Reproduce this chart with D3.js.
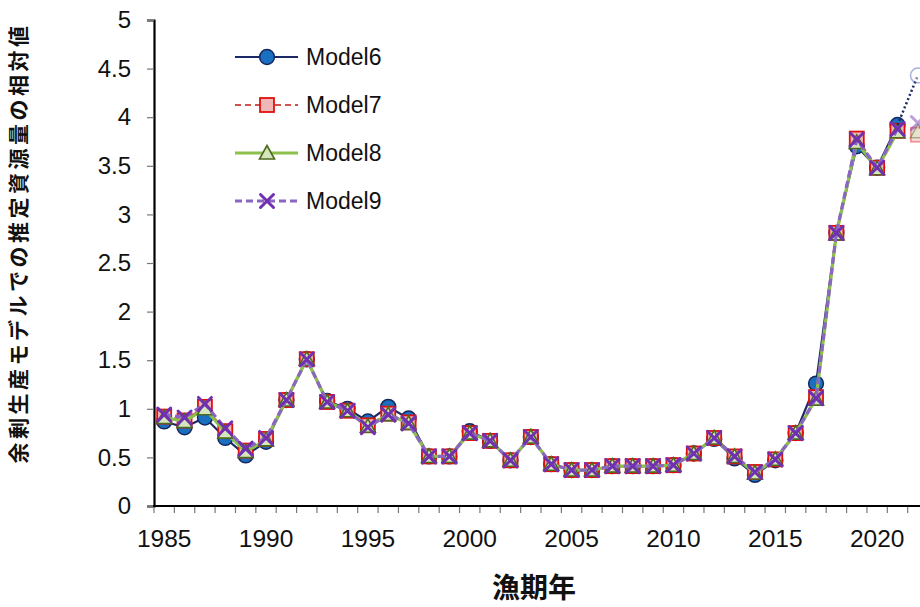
<!DOCTYPE html>
<html lang="ja">
<head>
  <meta charset="UTF-8" />
  <title>余剰生産モデルでの推定資源量の相対値</title>
  <style>
    body {
      margin: 0;
      background: #fff;
      font-family: "Liberation Sans", Arial, sans-serif;
    }
    svg { display: block; }
    .tick text { font-family: "Liberation Sans", Arial, sans-serif; }
    .jp { font-family: "Noto Sans CJK JP", sans-serif; }
  </style>
</head>
<body>
  <svg width="920" height="607"></svg>

  <script src="https://cdnjs.cloudflare.com/ajax/libs/d3/7.8.5/d3.min.js"></script>
  <script>
    // fishing years 1985-2021
    const years = d3.range(1985, 2022);
    const yearTicks = [1985, 1990, 1995, 2000, 2005, 2010, 2015, 2020];
    const yTicks = [0, 0.5, 1, 1.5, 2, 2.5, 3, 3.5, 4, 4.5, 5];

    const model6 = [0.87, 0.81, 0.91, 0.70, 0.52, 0.66, 1.09, 1.51, 1.08, 1.00, 0.87, 1.02, 0.90, 0.51, 0.51,
      0.77, 0.67, 0.47, 0.71, 0.43, 0.37, 0.37, 0.41, 0.41, 0.41, 0.42, 0.54, 0.69, 0.49, 0.32,
      0.47, 0.75, 1.26, 2.81, 3.70, 3.48, 3.92];
    const model7 = [0.92, 0.88, 1.02, 0.77, 0.57, 0.69, 1.09, 1.51, 1.07, 0.98, 0.83, 0.95, 0.86, 0.51, 0.51,
      0.75, 0.67, 0.47, 0.71, 0.43, 0.37, 0.37, 0.41, 0.41, 0.41, 0.42, 0.54, 0.70, 0.51, 0.35,
      0.48, 0.75, 1.12, 2.81, 3.78, 3.48, 3.86];
    const model8 = [0.91, 0.87, 1.00, 0.76, 0.56, 0.68, 1.09, 1.51, 1.07, 0.98, 0.82, 0.94, 0.85, 0.51, 0.51,
      0.75, 0.67, 0.47, 0.71, 0.43, 0.37, 0.37, 0.41, 0.41, 0.41, 0.42, 0.54, 0.70, 0.51, 0.34,
      0.48, 0.75, 1.10, 2.80, 3.74, 3.47, 3.85];
    const model9 = [0.94, 0.91, 1.05, 0.80, 0.59, 0.70, 1.09, 1.51, 1.07, 0.98, 0.81, 0.94, 0.85, 0.51, 0.51,
      0.75, 0.67, 0.47, 0.71, 0.43, 0.37, 0.37, 0.41, 0.41, 0.41, 0.42, 0.54, 0.70, 0.51, 0.35,
      0.48, 0.75, 1.11, 2.81, 3.77, 3.48, 3.88];

    // provisional 2022 values (drawn faded)
    const provYear = 2022;
    const provValues = [4.43, 3.82, 3.85, 3.94];

    const seriesNames = ["Model6", "Model7", "Model8", "Model9"];

    const styles = [
      { line: "#1b2a66", dash: null, width: 2.2, shape: "circle", fill: "#1a6fc0", stroke: "#16275e" },
      { line: "#d0504a", dash: "6,4", width: 2.2, shape: "square", fill: "#efb7b5", stroke: "#e01010" },
      { line: "#8cc04b", dash: null, width: 3.2, shape: "triangle", fill: "#d6e6bc", stroke: "#4d6a1e" },
      { line: "#8a66c2", dash: "7,4", width: 3.2, shape: "cross", fill: "none", stroke: "#7030b0" }
    ];

    const series = [model6, model7, model8, model9].map((vals, i) => ({
      name: seriesNames[i],
      style: styles[i],
      points: years.map((yr, j) => ({ year: yr, value: vals[j] })),
      prov: { year: provYear, value: provValues[i] }
    }));

    const svg = d3.select("svg");

    // category axis: points sit in the middle of each year slot
    const x = d3.scaleBand()
      .domain(d3.range(1985, 2025))
      .range([154, 154 + 40 * 20.37])
      .padding(0);
    const xc = yr => x(yr) + x.bandwidth() / 2;

    const y = d3.scaleLinear().domain([0, 5]).range([506, 20]);

    // y axis
    const yAxis = svg.append("g")
      .attr("transform", "translate(154,0)")
      .call(d3.axisLeft(y).tickValues(yTicks).tickSize(7).tickPadding(16).tickFormat(d => String(d)));
    yAxis.select(".domain").attr("stroke", "#000").attr("stroke-width", 2.2);
    yAxis.selectAll(".tick line").attr("stroke", "#777").attr("stroke-width", 1.2);
    yAxis.selectAll(".tick text").attr("font-size", 24).attr("fill", "#111");

    // x axis
    const xAxisG = svg.append("g").attr("transform", "translate(0,506)");
    xAxisG.selectAll("line.tk")
      .data(x.domain())
      .join("line")
      .attr("class", "tk")
      .attr("x1", d => x(d)).attr("x2", d => x(d))
      .attr("y1", 0).attr("y2", 7)
      .attr("stroke", "#777").attr("stroke-width", 1.2);
    xAxisG.append("line")
      .attr("x1", x.range()[0] - 1).attr("x2", x.range()[1])
      .attr("y1", 0).attr("y2", 0)
      .attr("stroke", "#000").attr("stroke-width", 2.2);
    xAxisG.selectAll("text.lbl")
      .data(yearTicks)
      .join("text")
      .attr("class", "lbl")
      .attr("x", d => xc(d))
      .attr("y", 41)
      .attr("text-anchor", "middle")
      .attr("font-size", 24.5)
      .attr("fill", "#111")
      .text(d => d);

    // axis titles
    svg.append("text")
      .attr("class", "jp")
      .attr("x", 534).attr("y", 598)
      .attr("text-anchor", "middle")
      .attr("font-size", 28).attr("font-weight", "bold")
      .attr("fill", "#111")
      .text("漁期年");

    svg.append("text")
      .attr("class", "jp")
      .attr("transform", "translate(26,243) rotate(-90)")
      .attr("text-anchor", "middle")
      .attr("font-size", 21).attr("font-weight", "bold")
      .attr("letter-spacing", 3.5)
      .attr("fill", "#111")
      .text("余剰生産モデルでの推定資源量の相対値");

    // marker drawing helper
    function drawMarker(g, shape, cx, cy, st, opacity) {
      const m = g.append("g").attr("transform", `translate(${cx},${cy})`).attr("opacity", opacity);
      if (shape === "circle") {
        m.append("circle").attr("r", 7.4)
          .attr("fill", st.fill).attr("stroke", st.stroke).attr("stroke-width", 1.5);
      } else if (shape === "square") {
        m.append("rect").attr("x", -7).attr("y", -7).attr("width", 14).attr("height", 14)
          .attr("fill", st.fill).attr("stroke", st.stroke).attr("stroke-width", 1.8);
      } else if (shape === "triangle") {
        m.append("path").attr("d", "M0,-7.5L7.5,6L-7.5,6Z")
          .attr("fill", st.fill).attr("stroke", st.stroke).attr("stroke-width", 1.6);
      } else {
        m.append("path").attr("d", "M-6.5,-6.5L6.5,6.5M6.5,-6.5L-6.5,6.5")
          .attr("stroke", st.stroke).attr("stroke-width", 3).attr("stroke-linecap", "round");
      }
    }

    const line = d3.line().x(d => xc(d.year)).y(d => y(d.value));
    const plot = svg.append("g");

    series.forEach(s => {
      const g = plot.append("g");
      g.append("path")
        .datum(s.points)
        .attr("d", line)
        .attr("fill", "none")
        .attr("stroke", s.style.line)
        .attr("stroke-width", s.style.width)
        .attr("stroke-dasharray", s.style.dash);
      s.points.forEach(p => drawMarker(g, s.style.shape, xc(p.year), y(p.value), s.style, 1));
    });

    // provisional year: Model6 joined with a dotted line, others as faded markers
    const last6 = series[0].points[series[0].points.length - 1];
    plot.append("path")
      .datum([last6, series[0].prov])
      .attr("d", line)
      .attr("fill", "none")
      .attr("stroke", "#1b2a66")
      .attr("stroke-width", 2.5)
      .attr("stroke-dasharray", "2,2.5");
    series.forEach((s, i) => {
      const st = i === 0 ? { fill: "#fff", stroke: "#3b54a8" } : s.style;
      drawMarker(plot, s.style.shape, xc(s.prov.year), y(s.prov.value), st, 0.45);
    });

    // legend
    const legend = svg.append("g");
    series.forEach((s, i) => {
      const ly = 57 + i * 48;
      legend.append("line")
        .attr("x1", 235).attr("x2", 298).attr("y1", ly).attr("y2", ly)
        .attr("stroke", s.style.line)
        .attr("stroke-width", s.style.width)
        .attr("stroke-dasharray", s.style.dash);
      drawMarker(legend, s.style.shape, 267, ly, s.style, 1);
      legend.append("text")
        .attr("x", 306).attr("y", ly + 8)
        .attr("font-size", 23)
        .attr("fill", "#111")
        .text(s.name);
    });
  </script>
</body>
</html>
